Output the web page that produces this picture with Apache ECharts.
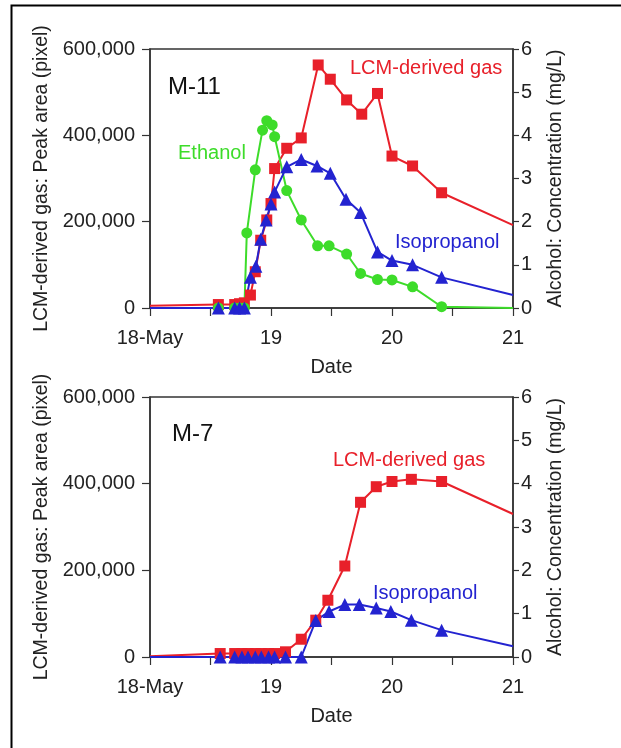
<!DOCTYPE html>
<html>
<head>
<meta charset="utf-8">
<script src="https://cdn.jsdelivr.net/npm/echarts@6/dist/echarts.min.js"></script>
<style>
  html, body { margin: 0; padding: 0; background: #fff; }
  #chart { width: 621px; height: 748px; }
</style>
</head>
<body>
<div id="chart"></div>
<script>
// M-11 panel
var m11GasDays = [18.0, 18.565, 18.70, 18.74, 18.78, 18.83, 18.87, 18.915, 18.965, 19.0, 19.03, 19.13, 19.25, 19.39, 19.49, 19.625, 19.75, 19.88, 20.0, 20.17, 20.41, 21.0]
var m11Gas = [5000, 8000, 8000, 10000, 12000, 30000, 84000, 157000, 204000, 242000, 323000, 370000, 394000, 563000, 530000, 482000, 449000, 497000, 352000, 329000, 267000, 192000]
var m11EthDays = [18.0, 18.565, 18.70, 18.74, 18.78, 18.80, 18.87, 18.93, 18.965, 19.01, 19.03, 19.13, 19.25, 19.385, 19.48, 19.625, 19.74, 19.88, 20.0, 20.17, 20.41, 21.0]
var m11Eth = [0, 0, 0, 0, 0, 1.74, 3.20, 4.12, 4.34, 4.24, 3.97, 2.72, 2.04, 1.44, 1.44, 1.25, 0.80, 0.66, 0.65, 0.49, 0.03, 0]
var m11IsoDays = [18.0, 18.565, 18.70, 18.74, 18.78, 18.83, 18.875, 18.915, 18.96, 19.0, 19.03, 19.13, 19.25, 19.38, 19.49, 19.62, 19.74, 19.88, 20.0, 20.17, 20.41, 21.0]
var m11Iso = [0, 0, 0, 0, 0, 0.71, 0.97, 1.59, 2.04, 2.41, 2.69, 3.27, 3.44, 3.29, 3.12, 2.52, 2.21, 1.30, 1.10, 1.00, 0.71, 0.30]

// M-7 panel
var m7GasDays = [18.0, 18.58, 18.70, 18.76, 18.81, 18.87, 18.92, 18.98, 19.03, 19.12, 19.25, 19.37, 19.47, 19.61, 19.74, 19.87, 20.0, 20.16, 20.41, 21.0]
var m7Gas = [2000, 8000, 8000, 8000, 8000, 8000, 8000, 8000, 8000, 12000, 41000, 85000, 131000, 210000, 357000, 393000, 405000, 410000, 405000, 330000]
var m7IsoDays = [18.0, 18.58, 18.70, 18.76, 18.81, 18.87, 18.92, 18.98, 19.03, 19.12, 19.25, 19.37, 19.48, 19.61, 19.73, 19.87, 19.99, 20.16, 20.41, 21.0]
var m7Iso = [0, 0, 0, 0, 0, 0, 0, 0, 0, 0, 0, 0.84, 1.05, 1.21, 1.21, 1.13, 1.05, 0.85, 0.62, 0.25]

var RED = '#e8202a'
var GREEN = '#3ddc2a'
var BLUE = '#2323d0'
var AXIS = '#333'
var FONT = 'Liberation Sans, Arial, sans-serif'

// first and last points are line ends only (no marker)
function pts(xs, ys) {
  var out = []
  for (var i = 0; i < xs.length; i++) {
    var p = { value: [xs[i], ys[i]] }
    if (i === 0 || i === xs.length - 1) p.symbol = 'none'
    out.push(p)
  }
  return out
}

function xAxisFor(idx) {
  return {
    type: 'value', gridIndex: idx, min: 18, max: 21, interval: 0.5,
    name: 'Date', nameLocation: 'middle', nameGap: 49,
    nameTextStyle: { fontSize: 20, color: '#222', fontFamily: FONT },
    axisLine: { lineStyle: { color: AXIS, width: 1.5 } },
    axisTick: { length: 8, lineStyle: { color: AXIS, width: 1.2 } },
    axisLabel: {
      margin: 20, fontSize: 20, color: '#222', fontFamily: FONT,
      formatter: function (v) {
        if (v === 18) return '18-May'
        if (v % 1 === 0) return String(v)
        return ''
      }
    },
    splitLine: { show: false }
  }
}

function leftAxisFor(idx) {
  return {
    type: 'value', gridIndex: idx, position: 'left', min: 0, max: 600000, interval: 200000,
    name: 'LCM-derived gas: Peak area (pixel)', nameLocation: 'middle', nameGap: 96,
    nameTextStyle: { fontSize: 19.5, color: '#222', fontFamily: FONT },
    axisLine: { show: true, lineStyle: { color: AXIS, width: 1.5 } },
    axisTick: { show: true, length: 8, lineStyle: { color: AXIS, width: 1.2 } },
    axisLabel: {
      margin: 15, fontSize: 20, color: '#222', fontFamily: FONT,
      formatter: function (v) { return v.toLocaleString('en-US') }
    },
    splitLine: { show: false }
  }
}

function rightAxisFor(idx) {
  return {
    type: 'value', gridIndex: idx, position: 'right', min: 0, max: 6, interval: 1,
    name: 'Alcohol: Concentration (mg/L)', nameLocation: 'middle', nameGap: 33,
    nameRotate: 90,
    nameTextStyle: { fontSize: 19.5, color: '#222', fontFamily: FONT },
    axisLine: { show: true, lineStyle: { color: AXIS, width: 1.5 } },
    axisTick: { show: true, length: 6, lineStyle: { color: AXIS, width: 1.2 } },
    axisLabel: { margin: 8, fontSize: 20, color: '#222', fontFamily: FONT },
    splitLine: { show: false }
  }
}

function lineSeries(name, xi, yi, data, color, symbol, size) {
  return {
    name: name, type: 'line', xAxisIndex: xi, yAxisIndex: yi,
    data: data, symbol: symbol, symbolSize: size, showAllSymbol: true,
    lineStyle: { color: color, width: 2 },
    itemStyle: { color: color },
    clip: true, animation: false
  }
}

function label(x, y, text, color, size) {
  return {
    type: 'text', left: x, top: y, z: 100,
    style: { text: text, fill: color, font: size + 'px ' + FONT }
  }
}

var chart = echarts.init(document.getElementById('chart'))
var option = {
  backgroundColor: '#fff',
  animation: false,
  grid: [
    { left: 150, top: 49, width: 363, height: 259, show: true, borderColor: AXIS, borderWidth: 1.5, backgroundColor: 'transparent' },
    { left: 150, top: 397, width: 363, height: 260, show: true, borderColor: AXIS, borderWidth: 1.5, backgroundColor: 'transparent' }
  ],
  xAxis: [xAxisFor(0), xAxisFor(1)],
  yAxis: [leftAxisFor(0), rightAxisFor(0), leftAxisFor(1), rightAxisFor(1)],
  series: [
    lineSeries('LCM-derived gas', 0, 0, pts(m11GasDays, m11Gas), RED, 'rect', 11),
    lineSeries('Ethanol', 0, 1, pts(m11EthDays, m11Eth), GREEN, 'circle', 11),
    lineSeries('Isopropanol', 0, 1, pts(m11IsoDays, m11Iso), BLUE, 'triangle', 13),
    lineSeries('LCM-derived gas', 1, 2, pts(m7GasDays, m7Gas), RED, 'rect', 11),
    lineSeries('Isopropanol', 1, 3, pts(m7IsoDays, m7Iso), BLUE, 'triangle', 13)
  ],
  graphic: [
    {
      type: 'rect', left: 9, top: 3, z: 100,
      shape: { width: 700, height: 800 },
      style: { fill: 'none', stroke: '#000', lineWidth: 2 }
    },
    label(168, 75, 'M-11', '#111', 24),
    label(350, 58, 'LCM-derived gas', RED, 20),
    label(178, 143, 'Ethanol', GREEN, 20),
    label(395, 232, 'Isopropanol', BLUE, 20),
    label(172, 422, 'M-7', '#111', 24),
    label(333, 450, 'LCM-derived gas', RED, 20),
    label(373, 583, 'Isopropanol', BLUE, 20)
  ]
}
chart.setOption(option)
</script>
</body>
</html>
